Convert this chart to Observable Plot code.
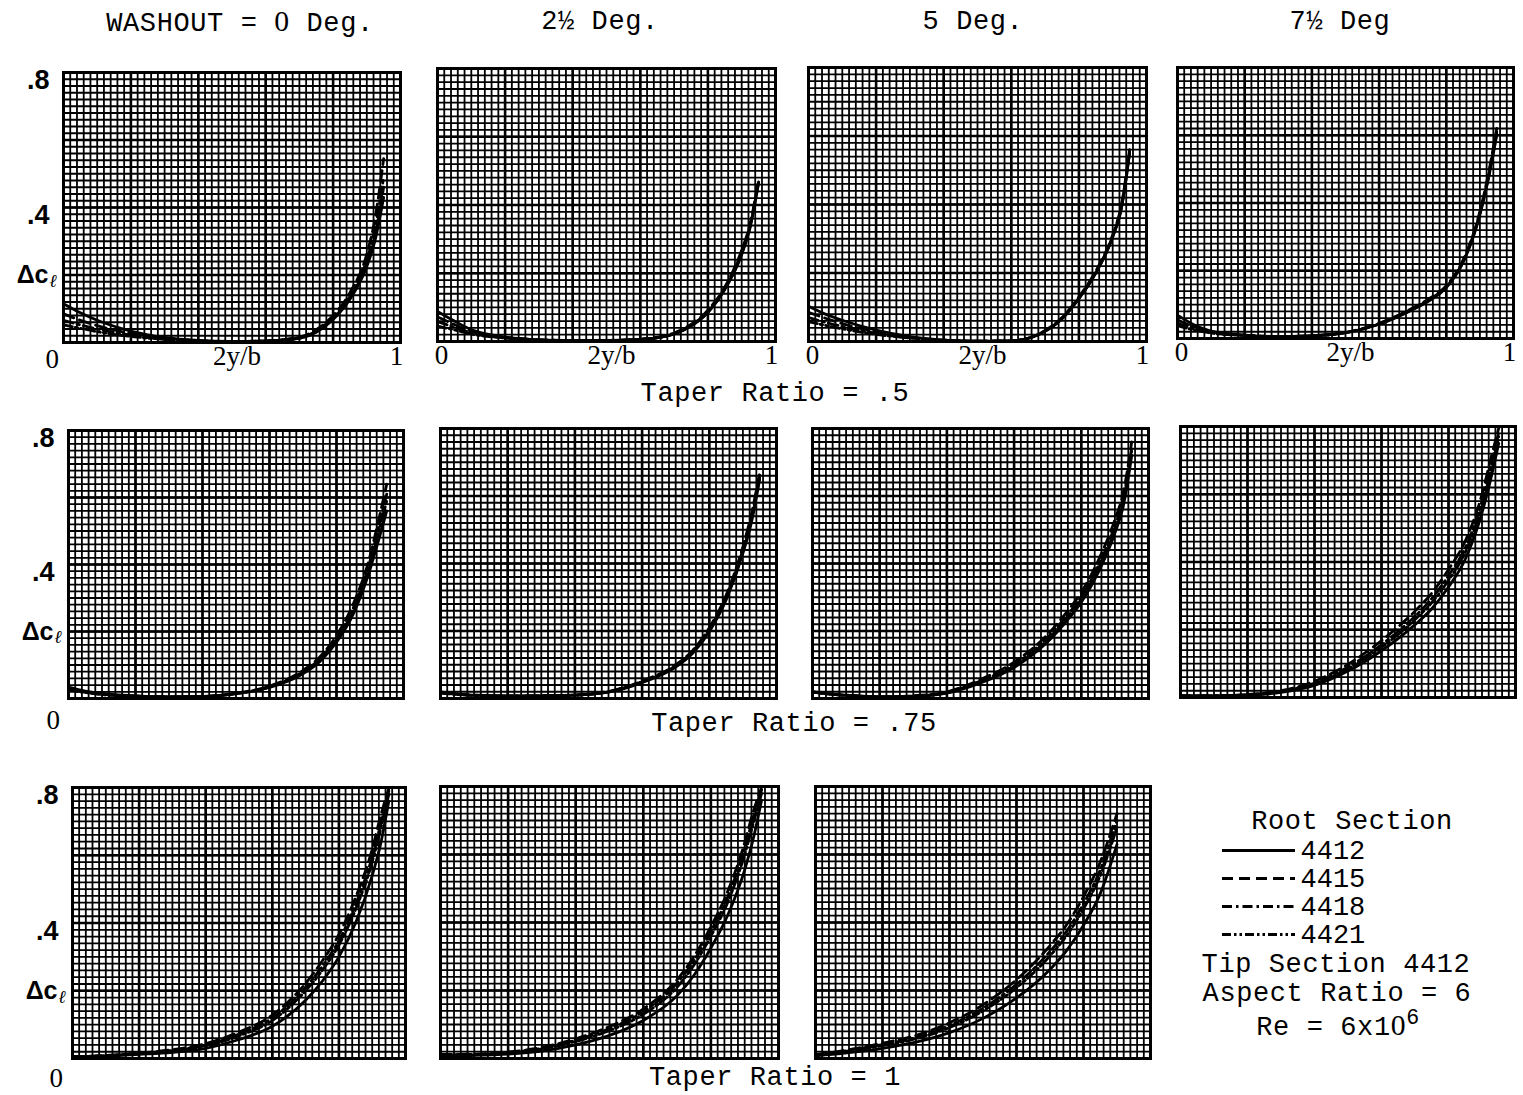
<!DOCTYPE html>
<html>
<head>
<meta charset="utf-8">
<script src="https://cdn.jsdelivr.net/npm/d3@7"></script>
<script src="https://cdn.jsdelivr.net/npm/@observablehq/plot@0.6"></script>
<style>
  body { margin: 0; background: #fff; }
  #page { position: relative; width: 1523px; height: 1095px; overflow: hidden;
          font-family: "Liberation Mono", "DejaVu Sans Mono", monospace; color: #000; background: #fff; }
  .lbl { position: absolute; font-size: 27px; line-height: 1; white-space: pre;
         transform: translate(-50%, -50%); letter-spacing: 0.6px; }
  .lbl sup { font-size: 0.8em; line-height: 1; position: relative; top: -0.12em; vertical-align: top; }
  .zero { font-family: "Liberation Serif", serif; font-size: 1.1em; }
</style>
</head>
<body>
<div id="page"></div>
<script>
// Spanwise stations 2y/b at which the additional lift distribution is tabulated
const stations = [0, 0.05, 0.1, 0.2, 0.3, 0.4, 0.5, 0.6, 0.7, 0.75, 0.8, 0.85, 0.9, 0.925, 0.95];

// Root sections (tip section is always 4412)
const rootSections = ["4412", "4415", "4418", "4421"];

// Column headings (washout) and row captions (taper ratio)
const washoutTitles = ["WASHOUT = <span class='zero'>0</span> Deg.", "2½ Deg.", "5 Deg.", "7½ Deg"];
const taperCaptions = ["Taper Ratio = .5", "Taper Ratio = .75", "Taper Ratio = 1"];

// Axis tick labels
const spanTicks = [0.012, 0.515, 0.988];
const spanTickLabels = ["0", "2y/b", "1"];
const liftTicks = [0.8, 0.4];
const liftTickLabels = [".8", ".4"];

// Δc_l along the span; one row per root section (4412, 4415, 4418, 4421)
// Taper ratio .5
const taper50_wash0 = [
  [.115, .088, .066, .034, .015, .006, .003, .004, .012, .030, .068, .128, .225, .305, .430],
  [.085, .066, .050, .027, .012, .005, .003, .005, .016, .038, .080, .148, .262, .370, .545],
  [.066, .052, .040, .022, .010, .004, .003, .005, .014, .034, .074, .138, .245, .340, .490],
  [.052, .042, .032, .018, .009, .004, .003, .004, .013, .032, .071, .133, .235, .322, .460]
];
const taper50_wash25 = [
  [.088, .060, .035, .013, .005, .003, .003, .006, .022, .045, .085, .152, .255, .335, .465],
  [.072, .050, .030, .012, .005, .003, .003, .007, .025, .050, .092, .160, .268, .345, .475],
  [.058, .042, .026, .011, .005, .003, .003, .006, .023, .047, .088, .156, .262, .340, .470],
  [.045, .034, .022, .010, .004, .003, .003, .006, .022, .046, .086, .154, .258, .337, .468]
];
const taper50_wash5 = [
  [.103, .080, .062, .033, .014, .004, .001, .002, .030, .066, .125, .200, .305, .385, .550],
  [.085, .068, .052, .028, .012, .004, .001, .002, .032, .070, .130, .206, .312, .395, .560],
  [.070, .056, .044, .024, .011, .004, .001, .002, .031, .068, .128, .203, .308, .390, .555],
  [.058, .047, .037, .021, .010, .003, .001, .002, .030, .067, .126, .201, .306, .387, .552]
];
const taper50_wash75 = [
  [.069, .040, .022, .010, .006, .008, .017, .042, .085, .112, .150, .225, .365, .470, .600],
  [.055, .034, .020, .010, .006, .008, .018, .045, .090, .118, .156, .232, .375, .485, .620],
  [.045, .029, .018, .009, .006, .008, .017, .043, .088, .115, .153, .228, .370, .478, .610],
  [.038, .025, .016, .009, .006, .008, .017, .043, .087, .114, .152, .226, .368, .474, .605]
];
// Taper ratio .75
const taper75_wash0 = [
  [.034, .022, .015, .008, .005, .006, .014, .033, .074, .110, .168, .252, .385, .470, .560],
  [.030, .020, .013, .007, .005, .006, .016, .037, .084, .124, .188, .282, .425, .530, .640],
  [.028, .019, .012, .007, .005, .006, .015, .035, .080, .118, .180, .270, .410, .510, .610],
  [.026, .018, .012, .007, .005, .006, .015, .034, .078, .115, .175, .262, .398, .492, .590]
];
const taper75_wash25 = [
  [.020, .014, .010, .008, .008, .010, .019, .047, .093, .133, .198, .292, .430, .520, .650],
  [.018, .013, .010, .008, .008, .010, .021, .052, .100, .142, .210, .306, .450, .545, .670],
  [.017, .012, .009, .007, .008, .010, .020, .050, .097, .138, .205, .300, .442, .535, .662],
  [.016, .012, .009, .007, .008, .010, .020, .049, .096, .136, .202, .296, .436, .528, .656]
];
const taper75_wash5 = [
  [.020, .014, .010, .005, .006, .016, .046, .092, .168, .222, .285, .372, .490, .570, .720],
  [.020, .014, .010, .005, .008, .020, .056, .108, .190, .248, .315, .408, .530, .610, .760],
  [.019, .013, .009, .005, .007, .018, .052, .101, .181, .237, .302, .392, .512, .592, .742],
  [.019, .013, .009, .005, .007, .017, .049, .097, .175, .230, .294, .383, .502, .582, .732]
];
const taper75_wash75 = [
  [.005, .005, .005, .007, .015, .036, .078, .138, .215, .262, .326, .408, .545, .640, .750],
  [.005, .005, .005, .009, .020, .048, .098, .168, .255, .308, .378, .462, .600, .700, .795],
  [.005, .005, .005, .008, .018, .043, .090, .156, .240, .292, .360, .442, .580, .678, .785],
  [.005, .005, .005, .008, .017, .040, .085, .148, .230, .280, .346, .428, .565, .660, .770]
];
// Taper ratio 1
const taper100_wash0 = [
  [.004, .005, .007, .012, .018, .030, .056, .095, .172, .228, .300, .400, .540, .632, .760],
  [.006, .007, .009, .016, .026, .044, .078, .128, .222, .288, .366, .475, .618, .715, .798],
  [.005, .006, .008, .015, .024, .040, .072, .120, .210, .272, .348, .455, .595, .690, .790],
  [.005, .006, .008, .014, .022, .037, .067, .112, .200, .260, .335, .440, .580, .675, .780]
];
const taper100_wash25 = [
  [.008, .008, .009, .013, .022, .040, .068, .112, .185, .245, .325, .422, .555, .645, .760],
  [.012, .012, .013, .019, .033, .058, .094, .146, .232, .300, .388, .492, .635, .725, .798],
  [.011, .011, .012, .017, .030, .054, .088, .138, .222, .288, .374, .476, .618, .708, .790],
  [.010, .010, .011, .016, .028, .050, .082, .130, .210, .275, .360, .460, .600, .690, .780]
];
const taper100_wash5 = [
  [.008, .012, .017, .030, .048, .076, .118, .178, .262, .318, .392, .485, .630, null, null],
  [.012, .018, .026, .045, .068, .105, .158, .232, .332, .394, .476, .578, .720, null, null],
  [.011, .016, .024, .041, .062, .097, .148, .218, .315, .375, .455, .555, .700, null, null],
  [.010, .015, .022, .038, .058, .091, .140, .208, .302, .362, .440, .538, .680, null, null]
];

// Line style for each root section
const dashStyles = [null, "11,6", "10,4,2.5,4", "9,3,2.5,3,2.5,3"];

// Panel placement: frame [left, top, right, bottom] in page pixels
const panels = [
  { data: taper50_wash0,   frame: [63, 72, 400, 342],     row: 0, col: 0 },
  { data: taper50_wash25,  frame: [437, 68, 775, 341],    row: 0, col: 1 },
  { data: taper50_wash5,   frame: [808, 67, 1146, 341],   row: 0, col: 2 },
  { data: taper50_wash75,  frame: [1177, 67, 1513, 338],  row: 0, col: 3 },
  { data: taper75_wash0,   frame: [68, 430, 403, 698],    row: 1, col: 0 },
  { data: taper75_wash25,  frame: [440, 428, 776, 698],   row: 1, col: 1 },
  { data: taper75_wash5,   frame: [812, 428, 1148, 698],  row: 1, col: 2 },
  { data: taper75_wash75,  frame: [1180, 426, 1515, 697], row: 1, col: 3 },
  { data: taper100_wash0,  frame: [72, 787, 405, 1058],   row: 2, col: 0 },
  { data: taper100_wash25, frame: [440, 786, 778, 1058],  row: 2, col: 1 },
  { data: taper100_wash5,  frame: [815, 786, 1150, 1058], row: 2, col: 2 }
];

// Graph-paper rulings: fine every 0.02, heavy every 0.2
const minorX = d3.range(0, 51).map(i => i / 50);
const minorY = d3.range(0, 41).map(i => i / 50);
const majorX = [0.2, 0.4, 0.6, 0.8];
const majorY = [0.2, 0.4, 0.6];

const mono = "Liberation Mono, DejaVu Sans Mono, monospace";
const serif = "Liberation Serif, serif";
const sans = "Liberation Sans, Arial, sans-serif";
const page = document.getElementById("page");

function place(node, left, top) {
  node.style.position = "absolute";
  node.style.left = left + "px";
  node.style.top = top + "px";
  page.append(node);
}

function label(html, cx, cy) {
  const div = document.createElement("div");
  div.className = "lbl";
  div.innerHTML = html;
  div.style.left = cx + "px";
  div.style.top = cy + "px";
  page.append(div);
}

// Offsets of the column-A "0" label, per row
const zeroOffset = [[-18, 25], [-22, 30], [-23, 28]];

for (const p of panels) {
  const [l, t, r, b] = p.frame;
  const mL = p.col === 0 ? 72 : 14, mR = 14, mT = 6, mB = 40;
  const rows = p.data.flatMap((vals, k) =>
    stations.map((x, i) => ({ x, y: vals[i], section: rootSections[k] })).filter(d => d.y != null)
  );

  const marks = [
    Plot.gridX(minorX, { stroke: "#000", strokeOpacity: 1, strokeWidth: 1.8 }),
    Plot.gridY(minorY, { stroke: "#000", strokeOpacity: 1, strokeWidth: 1.8 }),
    Plot.gridX(majorX, { stroke: "#000", strokeOpacity: 1, strokeWidth: 2.6 }),
    Plot.gridY(majorY, { stroke: "#000", strokeOpacity: 1, strokeWidth: 2.6 }),
    Plot.frame({ stroke: "#000", strokeWidth: 3 }),
    ...rootSections.map((s, k) =>
      Plot.line(rows.filter(d => d.section === s), {
        x: "x", y: "y", stroke: "#000", strokeWidth: 2.8,
        strokeDasharray: dashStyles[k], curve: "monotone-x"
      })
    )
  ];

  if (p.row === 0) {
    const ticks = spanTicks.map((x, i) => ({ x, text: spanTickLabels[i] }))
      .filter(d => !(p.col === 0 && d.text === "0"));
    marks.push(Plot.text(ticks, {
      x: "x", text: "text", frameAnchor: "bottom", dy: 22,
      fontSize: 27, fontFamily: serif, fill: "#000"
    }));
  }
  if (p.col === 0) {
    const [zx, zy] = zeroOffset[p.row];
    marks.push(
      Plot.text(["0"], { text: d => d, frameAnchor: "bottom-left", dx: zx, dy: zy,
        fontSize: 27, fontFamily: serif, fill: "#000" }),
      Plot.text(liftTicks, { y: d => d, text: (d, i) => liftTickLabels[i], frameAnchor: "left",
        dx: -14, dy: 8, textAnchor: "end", fontSize: 27, fontWeight: "bold", fontFamily: sans, fill: "#000" }),
      Plot.text([0.2], { y: d => d, text: () => "Δc", frameAnchor: "left",
        dx: -15, dy: 0, textAnchor: "end", fontSize: 25, fontWeight: "bold", fontFamily: sans,
        fill: "#000", letterSpacing: 1.5 }),
      Plot.text([0.2], { y: d => d, text: () => "ℓ", frameAnchor: "left",
        dx: -14, dy: 6, textAnchor: "start", fontSize: 18, fontWeight: "bold", fontStyle: "italic",
        fontFamily: "DejaVu Serif, serif", fill: "#000" })
    );
  }

  const chart = Plot.plot({
    width: (r - l) + mL + mR,
    height: (b - t) + mT + mB,
    marginLeft: mL, marginRight: mR, marginTop: mT, marginBottom: mB,
    x: { domain: [0, 1], axis: null },
    y: { domain: [0, 0.8], axis: null },
    style: { background: "transparent", overflow: "visible" },
    marks
  });
  place(chart, l - mL, t - mT);
}

// Column headings and row captions
const titleX = [240, 600, 973, 1340];
washoutTitles.forEach((s, i) => label(s, titleX[i], 22));
const captionPos = [[775, 394], [794, 724], [775, 1078]];
taperCaptions.forEach((s, i) => label(s, captionPos[i][0], captionPos[i][1]));

// Legend: line style of each root section
const legend = Plot.plot({
  width: 230, height: 112,
  marginTop: 14, marginBottom: 14, marginLeft: 22, marginRight: 8,
  x: { domain: [0, 1], axis: null },
  y: { type: "point", domain: rootSections, padding: 0, axis: null },
  style: { background: "transparent", overflow: "visible" },
  marks: [
    ...rootSections.map((s, k) => Plot.ruleY([s], {
      y: d => d, x1: 0, x2: 0.365, stroke: "#000", strokeWidth: 2.8, strokeDasharray: dashStyles[k]
    })),
    Plot.text(rootSections, { x: () => 0.39, y: d => d, text: d => d, textAnchor: "start",
      fontSize: 27, fontFamily: mono, fill: "#000", letterSpacing: 4 })
  ]
});
place(legend, 1200, 836);

label("Root Section", 1352, 822);
label("Tip Section 4412", 1336, 965);
label("Aspect Ratio = 6", 1337, 994);
label("Re = 6x1<span class='zero'>0</span><sup>6</sup>", 1338, 1026);
</script>
</body>
</html>
